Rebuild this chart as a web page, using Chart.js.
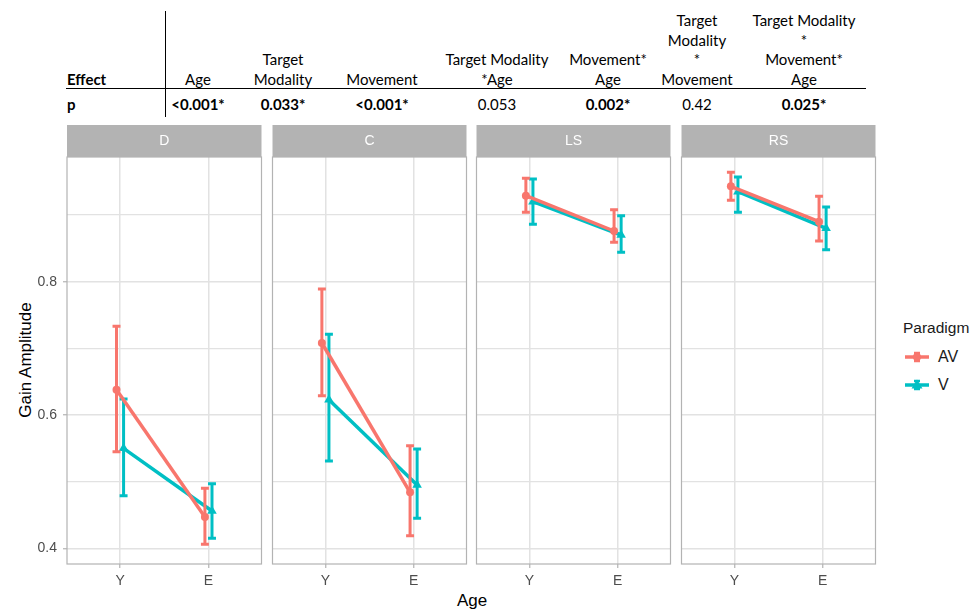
<!DOCTYPE html>
<html>
<head>
<meta charset="utf-8">
<script src="https://cdn.jsdelivr.net/npm/chart.js@4.4.1/dist/chart.umd.min.js"></script>
<style>
  html, body { margin: 0; padding: 0; background: #ffffff; }
  body { width: 974px; height: 613px; position: relative; overflow: hidden; font-family: "Liberation Sans", Arial, sans-serif; }
  canvas { position: absolute; }
  .tcell { position: absolute; font-family: Lato, "Open Sans", sans-serif; font-size: 15px; line-height: 19.5px; color: #000; text-align: center; width: 140px; white-space: nowrap; }
  .bold { font-weight: bold; }
  .rule { position: absolute; background: #000; }
  .axtitle { position: absolute; font-size: 17px; color: #000; white-space: nowrap; }
  #legend { position: absolute; left: 903px; top: 318px; font-size: 15.5px; color: #1a1a1a; }
  .legitem { position: absolute; left: 0; height: 20px; white-space: nowrap; }
  .legitem svg { position: absolute; left: 2px; top: 2px; }
  .legitem span { position: absolute; left: 35px; top: 0; line-height: 20px; font-size: 16px; }
</style>
</head>
<body>
<div id="table"></div>
<div class="axtitle" id="ytitle" style="left:25.5px; top:360px; transform: translate(-50%,-50%) rotate(-90deg);">Gain Amplitude</div>
<div class="axtitle" id="xtitle" style="left:472px; top:601px; transform: translate(-50%,-50%);">Age</div>
<div id="legend"></div>
<script>
// ---------------- data ----------------
const panels = ['D', 'C', 'LS', 'RS'];
const ageGroups = ['Y', 'E'];
const seriesNames = ['AV', 'V'];

// per panel: [Y, E]
const avMean = [[0.638, 0.447], [0.708, 0.484], [0.929, 0.876], [0.943, 0.890]];
const avLow  = [[0.545, 0.406], [0.629, 0.419], [0.904, 0.859], [0.922, 0.861]];
const avHigh = [[0.733, 0.490], [0.789, 0.554], [0.955, 0.908], [0.964, 0.928]];
const vMean  = [[0.550, 0.456], [0.623, 0.495], [0.920, 0.870], [0.935, 0.880]];
const vLow   = [[0.479, 0.415], [0.531, 0.445], [0.886, 0.844], [0.904, 0.848]];
const vHigh  = [[0.624, 0.497], [0.721, 0.549], [0.954, 0.899], [0.957, 0.912]];

const yBreaks = [0.4, 0.5, 0.6, 0.7, 0.8, 0.9];
const yTickLabels = ['0.4', '', '0.6', '', '0.8', ''];

// statistics table
const effectHeaders = [['Age'], ['Target', 'Modality'], ['Movement'], ['Target Modality', '*Age'],
  ['Movement*', 'Age'], ['Target', 'Modality', '*', 'Movement'], ['Target Modality', '*', 'Movement*', 'Age']];
const pValues = ['<0.001*', '0.033*', '<0.001*', '0.053', '0.002*', '0.42', '0.025*'];
const pSignificant = [true, true, true, false, true, false, true];

// ---------------- layout / style ----------------
const colCenters = [198, 283, 382, 497, 608, 697, 804];
const Y_MIN = 0.3765, Y_MAX = 0.987;
const X_MIN = 0.4, X_MAX = 2.6;
const DODGE = 0.04;
const CAP = 0.045;
const COLORS = ['#F8766D', '#00BFC4'];
const plotLefts = [67, 272, 476, 681];
const PLOT_W = 195;
const GRID = '#E2E2E2';
const BORDER = '#B3B3B3';

// table
const table = document.getElementById('table');
function addCell(html, left, css, cls) {
  const d = document.createElement('div');
  d.className = 'tcell' + (cls ? ' ' + cls : '');
  d.innerHTML = html;
  Object.assign(d.style, css);
  d.style.left = left + 'px';
  table.appendChild(d);
}
addCell('Effect', 67, { bottom: (613 - 89) + 'px', textAlign: 'left', width: '80px' }, 'bold');
addCell('p', 67, { top: '94.5px', textAlign: 'left', width: '40px' }, 'bold');
effectHeaders.forEach((lines, k) => {
  addCell(lines.join('<br>'), colCenters[k] - 70, { bottom: (613 - 89) + 'px' });
  addCell(pValues[k], colCenters[k] - 70, { top: '94.5px' }, pSignificant[k] ? 'bold' : '');
});
function addRule(l, t, w, h) {
  const r = document.createElement('div');
  r.className = 'rule';
  Object.assign(r.style, { left: l + 'px', top: t + 'px', width: w + 'px', height: h + 'px' });
  table.appendChild(r);
}
addRule(164.8, 11, 1.5, 106);
addRule(66, 87.8, 800, 1.6);

// legend
const legend = document.getElementById('legend');
const lt = document.createElement('div');
lt.textContent = 'Paradigm';
lt.style.cssText = 'position:absolute;left:0;top:0;line-height:20px;white-space:nowrap;';
legend.appendChild(lt);
seriesNames.forEach((name, k) => {
  const it = document.createElement('div');
  it.className = 'legitem';
  it.style.top = (29 + k * 28) + 'px';
  const c = COLORS[k];
  const shape = k === 0
    ? `<circle cx="12" cy="8" r="4" fill="${c}"/>`
    : `<polygon points="12,2.5 17.5,11.5 6.5,11.5" fill="${c}"/>`;
  it.innerHTML = `<svg width="24" height="16" viewBox="0 0 24 16">
      <line x1="0" y1="8" x2="24" y2="8" stroke="${c}" stroke-width="3.5"/>
      <line x1="12" y1="3" x2="12" y2="13" stroke="${c}" stroke-width="3"/>
      <line x1="9" y1="4" x2="15" y2="4" stroke="${c}" stroke-width="2.5"/>
      <line x1="9" y1="12" x2="15" y2="12" stroke="${c}" stroke-width="2.5"/>
      ${shape}</svg><span>${name}</span>`;
  legend.appendChild(it);
});

// ---------------- charts ----------------
Chart.defaults.font.family = '"Liberation Sans", Arial, sans-serif';
Chart.defaults.animation = false;

const stripPlugin = {
  id: 'strip',
  beforeDraw(chart) {
    const { ctx, chartArea } = chart;
    ctx.save();
    ctx.fillStyle = '#B3B3B3';
    ctx.fillRect(chartArea.left, 0, chartArea.right - chartArea.left, chartArea.top);
    ctx.restore();
  },
  beforeDatasetsDraw(chart) {
    const { ctx, chartArea } = chart;
    ctx.save();
    ctx.strokeStyle = BORDER;
    ctx.lineWidth = 1.2;
    ctx.strokeRect(chartArea.left, chartArea.top, chartArea.right - chartArea.left, chartArea.bottom - chartArea.top);
    ctx.restore();
  }
};

const errorBarPlugin = {
  id: 'errorbars',
  afterDatasetDraw(chart, args) {
    const ds = chart.data.datasets[args.index];
    const xs = chart.scales.x, ys = chart.scales.y;
    const ctx = chart.ctx;
    ctx.save();
    ctx.strokeStyle = ds.borderColor;
    ctx.lineWidth = 3;
    ctx.lineCap = 'butt';
    ds.data.forEach((p, j) => {
      const x = xs.getPixelForValue(p.x);
      const x0 = xs.getPixelForValue(p.x - CAP);
      const x1 = xs.getPixelForValue(p.x + CAP);
      const yl = ys.getPixelForValue(ds.low[j]);
      const yh = ys.getPixelForValue(ds.high[j]);
      ctx.beginPath();
      ctx.moveTo(x, yl); ctx.lineTo(x, yh);
      ctx.moveTo(x0, yl); ctx.lineTo(x1, yl);
      ctx.moveTo(x0, yh); ctx.lineTo(x1, yh);
      ctx.stroke();
    });
    ctx.restore();
  }
};

panels.forEach((name, i) => {
  const padL = i === 0 ? 67 : 5;
  const padR = 5;
  const left = plotLefts[i] - padL;
  const W = padL + PLOT_W + padR;
  const H = 465;
  const cv = document.createElement('canvas');
  cv.width = W; cv.height = H;
  cv.style.left = left + 'px';
  cv.style.top = '125px';
  cv.style.width = W + 'px';
  cv.style.height = H + 'px';
  document.body.appendChild(cv);

  const means = [avMean[i], vMean[i]];
  const lows = [avLow[i], vLow[i]];
  const highs = [avHigh[i], vHigh[i]];
  const datasets = seriesNames.map((s, k) => ({
    label: s,
    data: ageGroups.map((g, j) => ({ x: j + 1 + (k === 0 ? -DODGE : DODGE), y: means[k][j] })),
    low: lows[k],
    high: highs[k],
    borderColor: COLORS[k],
    backgroundColor: COLORS[k],
    borderWidth: 3.5,
    pointStyle: k === 0 ? 'circle' : 'triangle',
    pointRadius: k === 0 ? 4 : 5.5,
    pointBorderWidth: 0,
    pointBackgroundColor: COLORS[k],
    tension: 0,
    clip: false
  }));

  new Chart(cv, {
    type: 'line',
    data: { datasets },
    plugins: [stripPlugin, errorBarPlugin],
    options: {
      responsive: false,
      devicePixelRatio: 1,
      animation: false,
      layout: { padding: 0 },
      plugins: {
        legend: { display: false },
        tooltip: { enabled: false },
        title: {
          display: true,
          text: name,
          fullSize: false,
          color: '#FFFFFF',
          font: { size: 14, weight: 'normal', lineHeight: 1.2 },
          padding: { top: 8, bottom: 7.2 }
        }
      },
      scales: {
        x: {
          type: 'linear',
          min: X_MIN, max: X_MAX,
          bounds: 'data',
          afterBuildTicks: s => { s.ticks = ageGroups.map((g, j) => ({ value: j + 1 })); },
          afterFit: s => { s.height = 26; },
          ticks: {
            callback: (v, idx) => ageGroups[idx],
            color: '#4D4D4D',
            font: { size: 14 },
            padding: 5,
            maxRotation: 0,
            autoSkip: false
          },
          grid: { color: GRID, lineWidth: 1.5, drawTicks: true, tickLength: 4, tickColor: BORDER, tickWidth: 1.2 },
          border: { display: false }
        },
        y: {
          type: 'linear',
          min: Y_MIN, max: Y_MAX,
          bounds: 'data',
          afterBuildTicks: s => { s.ticks = yBreaks.map(v => ({ value: v })); },
          afterFit: s => { s.width = padL; },
          ticks: {
            display: i === 0,
            callback: (v, idx) => yTickLabels[idx],
            color: '#4D4D4D',
            font: { size: 14 },
            padding: 6,
            autoSkip: false
          },
          grid: {
            color: GRID,
            lineWidth: c => (yTickLabels[c.index] ? 1.5 : 1.2),
            drawTicks: i === 0,
            tickLength: 4,
            tickWidth: 1.2,
            tickColor: c => (yTickLabels[c.index] ? BORDER : 'rgba(0,0,0,0)')
          },
          border: { display: false }
        }
      }
    }
  });
});
</script>
</body>
</html>
